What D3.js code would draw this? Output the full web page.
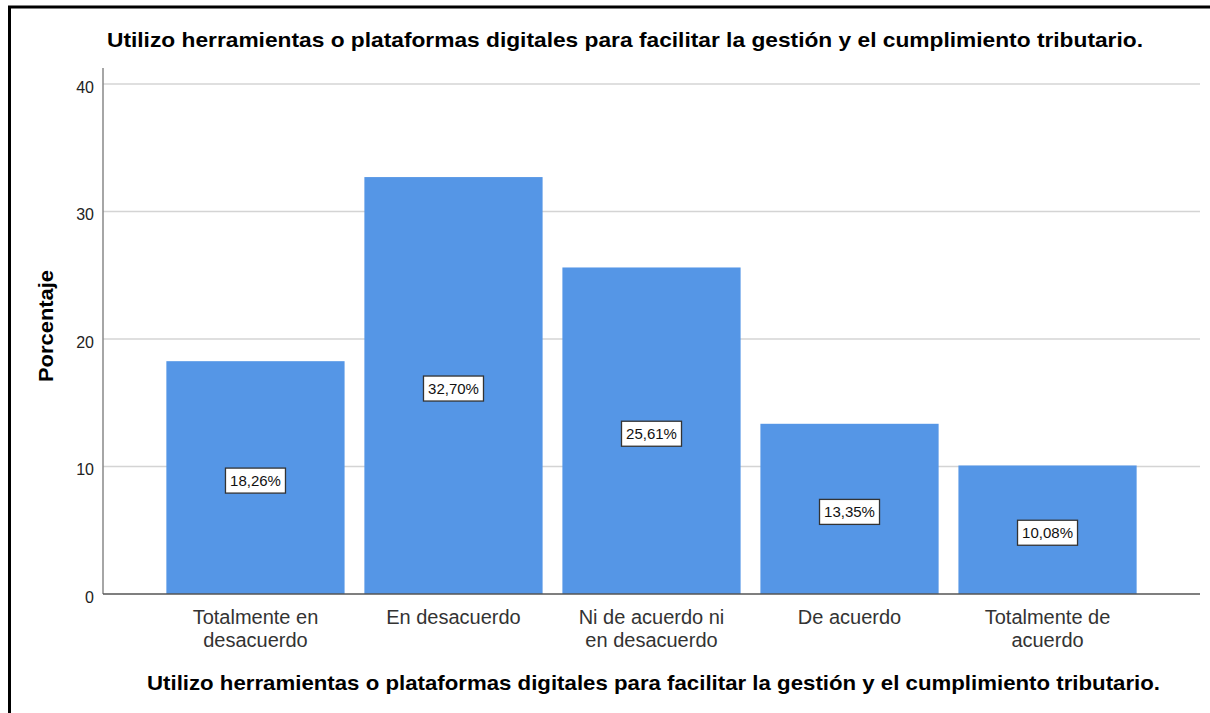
<html>
<head>
<meta charset="utf-8">
<style>
  body { margin: 0; background: #fff; }
  text { font-family: "Liberation Sans", Arial, sans-serif; }
</style>
</head>
<body>
<script src="https://d3js.org/d3.v7.min.js"></script>
<div id="chart"></div>
<script>
// data
var categories = [
  ["Totalmente en", "desacuerdo"],
  ["En desacuerdo"],
  ["Ni de acuerdo ni", "en desacuerdo"],
  ["De acuerdo"],
  ["Totalmente de", "acuerdo"]
];
var percentages = [18.26, 32.70, 25.61, 13.35, 10.08];
var yTicks = [0, 10, 20, 30, 40];
var titleText = "Utilizo herramientas o plataformas digitales para facilitar la gestión y el cumplimiento tributario.";

var W = 1210, H = 713;
var margin = {top: 84, right: 10, bottom: 119, left: 103},
    width = 1200 - margin.left,
    height = 594 - margin.top;

var svg = d3.select("#chart").append("svg")
  .attr("width", W).attr("height", H);

// outer frame (top and left edges visible)
svg.append("line").attr("x1", 8).attr("x2", W).attr("y1", 7).attr("y2", 7)
  .attr("stroke", "#000").attr("stroke-width", 3);
svg.append("line").attr("x1", 9.5).attr("x2", 9.5).attr("y1", 6).attr("y2", H)
  .attr("stroke", "#000").attr("stroke-width", 3);

var g = svg.append("g")
  .attr("transform", "translate(" + margin.left + "," + margin.top + ")");

var keys = categories.map(function(d) { return d.join(" "); });

var x = d3.scaleBand()
  .domain(keys)
  .range([0, width])
  .paddingInner(0.1)
  .paddingOuter(0.32);

var y = d3.scaleLinear()
  .domain([0, 40])
  .range([height, 0]);

// gridlines
g.selectAll(".grid")
  .data(yTicks.filter(function(d) { return d > 0; }))
  .enter().append("line")
    .attr("x1", 0).attr("x2", width)
    .attr("y1", function(d) { return y(d); })
    .attr("y2", function(d) { return y(d); })
    .attr("stroke", "#d4d4d4").attr("stroke-width", 1.5);

// y axis
var yAxis = g.append("g")
  .call(d3.axisLeft(y).tickValues(yTicks).tickSize(0).tickPadding(9));
yAxis.select(".domain").remove();
yAxis.selectAll("text")
  .style("font-size", "16px").attr("fill", "#222")
  .attr("dy", "0.5em");
g.append("line")
  .attr("x1", 0).attr("x2", 0).attr("y1", -16).attr("y2", height)
  .attr("stroke", "#888").attr("stroke-width", 1.5);

// bars
g.selectAll(".bar")
  .data(percentages)
  .enter().append("rect")
    .attr("x", function(d, i) { return x(keys[i]); })
    .attr("y", function(d) { return y(d); })
    .attr("width", x.bandwidth())
    .attr("height", function(d) { return height - y(d); })
    .attr("fill", "#5596e6");

// x axis line
g.append("line")
  .attr("x1", 0).attr("x2", width).attr("y1", height).attr("y2", height)
  .attr("stroke", "#555").attr("stroke-width", 1.5);

// category labels
var cat = g.selectAll(".cat")
  .data(categories)
  .enter().append("text")
    .attr("x", function(d, i) { return x(keys[i]) + x.bandwidth() / 2; })
    .attr("y", height + 30)
    .attr("text-anchor", "middle")
    .style("font-size", "20px")
    .attr("fill", "#333");
cat.selectAll("tspan")
  .data(function(d) { return d; })
  .enter().append("tspan")
    .attr("x", function() { return d3.select(this.parentNode).attr("x"); })
    .attr("dy", function(d, i) { return i === 0 ? 0 : 23; })
    .text(function(d) { return d; });

// value labels
var lab = g.selectAll(".lab")
  .data(percentages)
  .enter().append("g")
    .attr("transform", function(d, i) {
      return "translate(" + (x(keys[i]) + x.bandwidth() / 2) + "," + ((y(d) + height) / 2 + 3) + ")";
    });
lab.append("rect")
  .attr("x", -30).attr("y", -12.5).attr("width", 60).attr("height", 25)
  .attr("fill", "#fff").attr("stroke", "#333").attr("stroke-width", 1.3);
lab.append("text")
  .attr("text-anchor", "middle").attr("dy", "0.36em")
  .style("font-size", "15px").attr("fill", "#111")
  .text(function(d) { return d.toFixed(2).replace(".", ",") + "%"; });

// titles
svg.append("text")
  .attr("x", 107).attr("y", 47)
  .attr("textLength", 1036).attr("lengthAdjust", "spacingAndGlyphs")
  .style("font-size", "20.5px").style("font-weight", "bold")
  .text(titleText);

svg.append("text")
  .attr("x", 147).attr("y", 690)
  .attr("textLength", 1013).attr("lengthAdjust", "spacingAndGlyphs")
  .style("font-size", "20.5px").style("font-weight", "bold")
  .text(titleText);

svg.append("text")
  .attr("transform", "translate(53," + 326 + ") rotate(-90)")
  .attr("text-anchor", "middle")
  .attr("textLength", 112).attr("lengthAdjust", "spacingAndGlyphs")
  .style("font-size", "20px").style("font-weight", "bold")
  .text("Porcentaje");
</script>
</body>
</html>
